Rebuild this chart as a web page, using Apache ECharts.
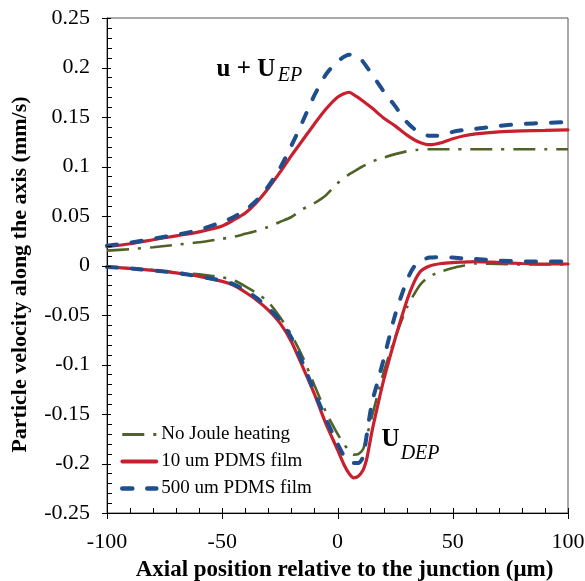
<!DOCTYPE html>
<html>
<head>
<meta charset="utf-8">
<script src="https://cdn.jsdelivr.net/npm/echarts@6/dist/echarts.min.js"></script>
<style>
  html, body { margin: 0; padding: 0; background: #fff; }
  #chart { width: 585px; height: 581px; }
</style>
</head>
<body>
<div id="chart"></div>
<script>
// Axial positions (µm) sampled for the u + U_EP branch
const upperX = [-100, -90, -80, -70, -60, -50, -45, -40, -35, -30, -25, -20, -15, -10, -5, 0, 5, 8, 10, 15, 20, 25, 30, 35, 40, 45, 50, 55, 60, 70, 80, 90, 100];
// Particle velocity (mm/s), u + U_EP
const upperNoJoule = [0.015, 0.0165, 0.0185, 0.021, 0.0235, 0.027, 0.029, 0.032, 0.035, 0.039, 0.044, 0.049, 0.057, 0.063, 0.071, 0.083, 0.092, 0.096, 0.099, 0.105, 0.109, 0.1125, 0.1153, 0.117, 0.1175, 0.1175, 0.1175, 0.1175, 0.1175, 0.1175, 0.1175, 0.1175, 0.1175];
const upper10um = [0.019, 0.022, 0.026, 0.030, 0.034, 0.040, 0.046, 0.053, 0.064, 0.078, 0.094, 0.111, 0.127, 0.143, 0.158, 0.170, 0.175, 0.171, 0.168, 0.159, 0.149, 0.141, 0.132, 0.125, 0.122, 0.124, 0.128, 0.131, 0.133, 0.135, 0.136, 0.1365, 0.137];
const upper500um = [0.020, 0.023, 0.027, 0.031, 0.036, 0.044, 0.049, 0.056, 0.066, 0.080, 0.098, 0.121, 0.146, 0.172, 0.193, 0.206, 0.213, 0.212, 0.209, 0.193, 0.176, 0.161, 0.145, 0.135, 0.131, 0.131, 0.135, 0.137, 0.138, 0.141, 0.143, 0.144, 0.145];

// Axial positions (µm) sampled for the U_DEP branch
const lowerX = [-100, -90, -80, -70, -60, -50, -45, -40, -35, -30, -25, -20, -15, -10, -5, 0, 3, 5, 7, 9, 11, 12, 13, 15, 17, 20, 25, 30, 33, 36, 40, 45, 50, 55, 60, 70, 80, 90, 100];
// Particle velocity (mm/s), U_DEP
const lowerNoJoule = [-0.0015, -0.003, -0.0045, -0.007, -0.009, -0.012, -0.015, -0.021, -0.028, -0.037, -0.052, -0.070, -0.093, -0.121, -0.148, -0.170, -0.181, -0.187, -0.191, -0.1905, -0.186, -0.179, -0.170, -0.152, -0.134, -0.108, -0.073, -0.043, -0.030, -0.019, -0.011, -0.006, -0.0025, 0.000, 0.002, 0.0015, 0.001, 0.001, 0.001];
const lower10um = [-0.0015, -0.003, -0.005, -0.0075, -0.011, -0.016, -0.020, -0.027, -0.035, -0.045, -0.058, -0.077, -0.103, -0.130, -0.160, -0.186, -0.202, -0.210, -0.2145, -0.213, -0.207, -0.201, -0.192, -0.167, -0.146, -0.116, -0.074, -0.036, -0.018, -0.006, -0.0005, 0.002, 0.003, 0.0035, 0.004, 0.003, 0.002, 0.0015, 0.0015];
const lower500um = [-0.0015, -0.003, -0.005, -0.0075, -0.011, -0.0155, -0.019, -0.025, -0.033, -0.043, -0.055, -0.073, -0.099, -0.128, -0.155, -0.180, -0.193, -0.197, -0.1995, -0.1995, -0.194, -0.182, -0.166, -0.138, -0.121, -0.095, -0.050, -0.0157, -0.002, 0.005, 0.008, 0.0085, 0.008, 0.007, 0.0065, 0.005, 0.0042, 0.004, 0.004];

const seriesNames = ['No Joule heating', '10 um PDMS film', '500 um PDMS film'];
const xTickValues = [-100, -50, 0, 50, 100];
const yTickValues = [-0.25, -0.2, -0.15, -0.1, -0.05, 0, 0.05, 0.1, 0.15, 0.2, 0.25];
const minorPerMajor = 5;

const serif = '"Liberation Serif", "Times New Roman", serif';

const styles = {
  'No Joule heating': { color: '#4f6228', width: 2.6, type: [22, 9, 3, 9], cap: 'butt' },
  '10 um PDMS film': { color: '#c8202f', width: 3.2, type: 'solid', cap: 'round' },
  '500 um PDMS film': { color: '#1f4e8c', width: 4, type: [10, 15], cap: 'round' }
};

function pairs(xs, ys) { return xs.map((x, i) => [x, ys[i]]); }

function curve(name, xs, ys) {
  const s = styles[name];
  return {
    name: name,
    type: 'line',
    data: pairs(xs, ys),
    smooth: 0.25,
    symbol: 'none',
    showSymbol: false,
    lineStyle: { color: s.color, width: s.width, type: s.type, cap: s.cap },
    itemStyle: { color: s.color },
    emphasis: { disabled: true },
    animation: false
  };
}

const tickText = v => String(parseFloat(v.toFixed(2)));
const isTick = (list, v) => list.some(t => Math.abs(t - v) < 1e-9);

const chart = echarts.init(document.getElementById('chart'), null, { renderer: 'canvas' });

const option = {
  animation: false,
  backgroundColor: '#fff',
  grid: {
    left: 107, right: 17, top: 18, bottom: 68,
    outerBoundsMode: 'none', containLabel: false,
    show: true, borderColor: '#555', borderWidth: 1
  },
  legend: {
    data: seriesNames.map(n => ({
      name: n,
      lineStyle: { width: styles[n].width + 0.6, type: styles[n].type, color: styles[n].color, cap: styles[n].cap }
    })),
    orient: 'vertical',
    left: 115,
    top: 420,
    itemWidth: 34,
    itemHeight: 20,
    itemGap: 8,
    textStyle: { fontFamily: serif, fontSize: 19, color: '#000' },
    itemStyle: { opacity: 0 },
    selectedMode: false
  },
  xAxis: {
    type: 'value', min: -100, max: 100, interval: 50,
    name: 'Axial position relative to the junction (\u03bcm)',
    nameLocation: 'middle', nameGap: 46,
    nameTextStyle: { fontFamily: serif, fontWeight: 'bold', fontSize: 23, color: '#000', padding: [0, 0, 0, 14] },
    axisLine: { show: true, onZero: false, lineStyle: { color: '#000', width: 1 } },
    axisTick: { show: false },
    minorTick: { show: false },
    axisLabel: {
      fontFamily: serif, fontSize: 22, color: '#000', margin: 18,
      formatter: v => isTick(xTickValues, v) ? tickText(v) : ''
    },
    splitLine: { show: false }
  },
  yAxis: {
    type: 'value', min: -0.25, max: 0.25, interval: 0.05,
    name: 'Particle velocity along the axis (mm/s)',
    nameLocation: 'middle', nameGap: 76,
    nameTextStyle: { fontFamily: serif, fontWeight: 'bold', fontSize: 22, color: '#000', padding: [0, 18, 0, 0] },
    axisLine: { show: true, onZero: false, lineStyle: { color: '#000', width: 1 } },
    axisTick: { show: false },
    minorTick: { show: false },
    axisLabel: {
      fontFamily: serif, fontSize: 22, color: '#000', margin: 17,
      formatter: v => isTick(yTickValues, v) ? tickText(v) : ''
    },
    splitLine: { show: false }
  },
  series: [
    curve(seriesNames[0], upperX, upperNoJoule),
    curve(seriesNames[0], lowerX, lowerNoJoule),
    curve(seriesNames[1], upperX, upper10um),
    curve(seriesNames[1], lowerX, lower10um),
    curve(seriesNames[2], upperX, upper500um),
    curve(seriesNames[2], lowerX, lower500um)
  ]
};

chart.setOption(option);

// Branch labels, anchored at their baselines in data coordinates
const branchLabels = [
  { text: 'u + U', at: [-52.5, 0.1917], size: 25, weight: 'bold', style: 'normal' },
  { text: 'EP', at: [-25.9, 0.1861], size: 20, weight: 'normal', style: 'italic' },
  { text: 'U', at: [19.1, -0.1827], size: 25, weight: 'bold', style: 'normal' },
  { text: 'DEP', at: [27.4, -0.1962], size: 20, weight: 'normal', style: 'italic' }
];

const toPx = (x, y) => chart.convertToPixel({ xAxisIndex: 0, yAxisIndex: 0 }, [x, y]);

// Tick marks: major ticks cross the axis line, minor ticks sit inside the plot
function subdivide(list) {
  const out = [];
  for (let i = 0; i < list.length - 1; i++) {
    const step = (list[i + 1] - list[i]) / minorPerMajor;
    for (let k = 1; k < minorPerMajor; k++) out.push(list[i] + k * step);
  }
  return out;
}

// each tick is a 1px filled bar
const tickBar = (x, y, w, h) => ({
  type: 'rect', silent: true, z: 100,
  shape: { x: x, y: y, width: w, height: h },
  style: { fill: '#000' }
});

const xMin = xTickValues[0], yMin = yTickValues[0];
const origin = toPx(xMin, yMin);
const axisY = Math.round(origin[1]);
const axisX = Math.round(origin[0]);
const ticks = [];
xTickValues.forEach(v => { const px = Math.round(toPx(v, yMin)[0]); ticks.push(tickBar(px, axisY - 5, 1, 11)); });
subdivide(xTickValues).forEach(v => { const px = Math.round(toPx(v, yMin)[0]); ticks.push(tickBar(px, axisY - 5, 1, 6)); });
yTickValues.forEach(v => { const py = Math.round(toPx(xMin, v)[1]); ticks.push(tickBar(axisX - 5, py, 9, 1)); });
subdivide(yTickValues).forEach(v => { const py = Math.round(toPx(xMin, v)[1]); ticks.push(tickBar(axisX, py, 5, 1)); });

chart.setOption({
  graphic: ticks.concat(branchLabels.map(l => {
    const p = toPx(l.at[0], l.at[1]);
    return {
      type: 'text',
      x: p[0],
      y: p[1] + Math.round(l.size * 0.22),
      silent: true,
      style: {
        text: l.text,
        fontFamily: serif, fontSize: l.size, fontWeight: l.weight, fontStyle: l.style,
        fill: '#000', align: 'left', verticalAlign: 'bottom'
      }
    };
  }))
});
</script>
</body>
</html>
